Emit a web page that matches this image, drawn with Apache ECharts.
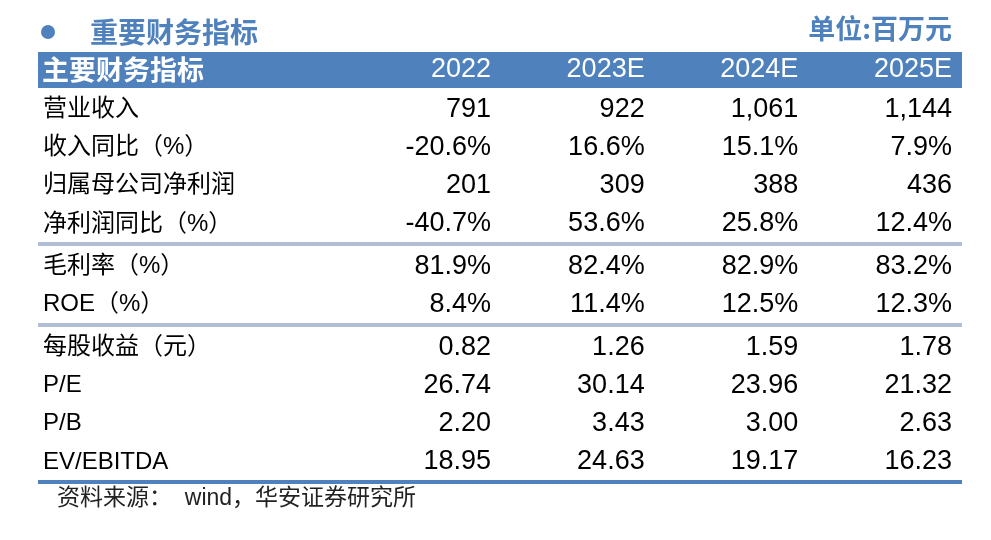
<!DOCTYPE html>
<html>
<head>
<meta charset="utf-8">
<script src="https://cdn.jsdelivr.net/npm/echarts@6/dist/echarts.min.js"></script>
<style>html,body{margin:0;padding:0;background:#fff}#c{width:991px;height:540px}</style>
</head>
<body>
<div id="c"></div>
<script>
// ---- data ----
const years = ['2022', '2023E', '2024E', '2025E'];
const group1Rows = ['营业收入', '收入同比（%）', '归属母公司净利润', '净利润同比（%）'];
const group2Rows = ['毛利率（%）', 'ROE（%）'];
const group3Rows = ['每股收益（元）', 'P/E', 'P/B', 'EV/EBITDA'];

const revenue      = [791, 922, 1061, 1144];
const revenueYoY   = [-20.6, 16.6, 15.1, 7.9];
const netProfit    = [201, 309, 388, 436];
const netProfitYoY = [-40.7, 53.6, 25.8, 12.4];
const grossMargin  = [81.9, 82.4, 82.9, 83.2];
const roe          = [8.4, 11.4, 12.5, 12.3];
const eps          = [0.82, 1.26, 1.59, 1.78];
const pe           = [26.74, 30.14, 23.96, 21.32];
const pb           = [2.20, 3.43, 3.00, 2.63];
const evEbitda     = [18.95, 24.63, 19.17, 16.23];

const group1Values = [revenue, revenueYoY, netProfit, netProfitYoY];
const group1Formats = ['int', 'pct', 'int', 'pct'];
const group2Values = [grossMargin, roe];
const group2Formats = ['pct', 'pct'];
const group3Values = [eps, pe, pb, evEbitda];
const group3Formats = ['dec2', 'dec2', 'dec2', 'dec2'];

const titleText = '重要财务指标';
const unitText = '单位:百万元';
const headerText = '主要财务指标';
const sourceText = '资料来源：  wind，华安证券研究所';

// ---- helpers ----
function fmt(v, f) {
  if (f === 'int') return v.toLocaleString('en-US');
  if (f === 'pct') return v.toFixed(1) + '%';
  return v.toFixed(2);
}
function cells(values, formats) {
  const out = [];
  values.forEach((row, r) => row.forEach((v, c) => out.push([c, r, fmt(v, formats[r])])));
  return out;
}

const BLUE = '#4f81bd';
const SEP = '#b0bdd5';
const LATIN_CJK = "'Liberation Sans', 'Noto Sans CJK SC', sans-serif";

const gridsCfg = [
  { top: 90, height: 153, rows: group1Rows, values: group1Values, formats: group1Formats },
  { top: 247, height: 77, rows: group2Rows, values: group2Values, formats: group2Formats },
  { top: 328, height: 153, rows: group3Rows, values: group3Values, formats: group3Formats }
];

const grid = [], xAxis = [], yAxis = [], series = [];
gridsCfg.forEach((g, i) => {
  grid.push({ left: 491, right: 39, top: g.top, height: g.height });
  xAxis.push({
    type: 'category', gridIndex: i, data: years, boundaryGap: false,
    position: 'top',
    axisLine: { show: false }, axisTick: { show: false }, splitLine: { show: false },
    axisLabel: i === 0 ? {
      show: true, interval: 0, align: 'right', verticalAlign: 'middle', margin: 20,
      color: '#fff', fontSize: 27, fontFamily: "'Liberation Sans', sans-serif"
    } : { show: false }
  });
  yAxis.push({
    type: 'category', gridIndex: i, data: g.rows, inverse: true,
    axisLine: { show: false }, axisTick: { show: false }, splitLine: { show: false },
    axisLabel: {
      show: true, interval: 0, align: 'left', margin: 448,
      color: '#000', fontSize: 24, fontFamily: LATIN_CJK
    }
  });
  series.push({
    type: 'custom', xAxisIndex: i, yAxisIndex: i,
    data: cells(g.values, g.formats),
    renderItem: function (params, api) {
      const pt = api.coord([api.value(0), api.value(1)]);
      const txt = g.values[api.value(1)] !== undefined
        ? fmt(g.values[api.value(1)][api.value(0)], g.formats[api.value(1)]) : '';
      return {
        type: 'text', x: pt[0], y: pt[1],
        style: {
          text: txt, fill: '#000', align: 'right', verticalAlign: 'middle',
          font: "27px 'Liberation Sans', sans-serif"
        }
      };
    }
  });
});

const chart = echarts.init(document.getElementById('c'), null, { renderer: 'canvas' });
chart.setOption({
  backgroundColor: '#fff',
  animation: false,
  grid, xAxis, yAxis, series,
  graphic: [
    { type: 'circle', shape: { cx: 48, cy: 32, r: 7 }, style: { fill: BLUE }, z: 1 },
    { type: 'text', x: 90, y: 32, style: { text: titleText, fill: BLUE, font: "bold 28px 'Noto Sans CJK SC'", verticalAlign: 'middle' } },
    { type: 'text', x: 952, y: 29, style: { text: unitText, fill: BLUE, font: "bold 27px 'Noto Sans CJK SC'", align: 'right', verticalAlign: 'middle' } },
    { type: 'rect', shape: { x: 38, y: 52, width: 924, height: 36 }, style: { fill: BLUE }, z: -1 },
    { type: 'text', x: 42, y: 70, style: { text: headerText, fill: '#fff', font: "bold 27px 'Noto Sans CJK SC'", verticalAlign: 'middle' } },
    { type: 'rect', shape: { x: 38, y: 242, width: 924, height: 4 }, style: { fill: SEP } },
    { type: 'rect', shape: { x: 38, y: 323, width: 924, height: 4 }, style: { fill: SEP } },
    { type: 'rect', shape: { x: 38, y: 480, width: 924, height: 4 }, style: { fill: BLUE } },
    { type: 'text', x: 57, y: 499, style: { text: sourceText, fill: '#222', font: "23px 'Liberation Sans', 'Noto Sans CJK SC'", verticalAlign: 'middle' } }
  ]
});
</script>
</body>
</html>
